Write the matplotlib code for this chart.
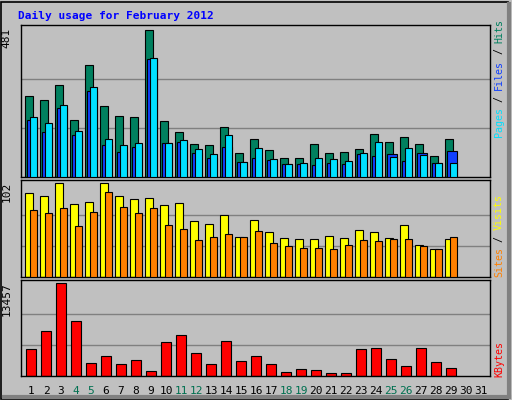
import matplotlib
matplotlib.use("Agg")
import matplotlib.pyplot as plt
import numpy as np

days = [str(d) for d in range(1, 32)]
weekend_days = [4, 5, 11, 12, 18, 19, 25, 26]
hits = [265, 252, 301, 187, 366, 232, 200, 196, 481, 183, 147, 108, 105, 164, 79, 124, 88, 62, 62, 108, 79, 82, 92, 141, 114, 131, 108, 69, 124]
files = [187, 147, 226, 137, 281, 105, 82, 98, 386, 111, 114, 79, 62, 98, 49, 62, 56, 43, 43, 39, 46, 43, 75, 69, 75, 52, 79, 46, 85]
pages = [196, 177, 236, 151, 295, 124, 105, 111, 389, 111, 121, 92, 75, 137, 49, 95, 59, 43, 46, 62, 59, 52, 79, 114, 65, 95, 72, 46, 46]
visits = [91, 88, 102, 79, 82, 102, 88, 85, 86, 78, 81, 61, 58, 67, 44, 62, 49, 42, 41, 41, 45, 42, 51, 49, 42, 57, 35, 31, 41]
sites = [73, 70, 75, 55, 71, 92, 76, 70, 75, 57, 52, 40, 44, 47, 44, 50, 37, 34, 32, 32, 30, 35, 40, 39, 41, 41, 34, 31, 43]
kbytes = [3880, 6530, 13457, 8000, 1820, 2850, 1670, 2260, 790, 4910, 5940, 3290, 1670, 5060, 2110, 2850, 1670, 640, 1080, 930, 490, 490, 3880, 4030, 2410, 1520, 4030, 1960, 1230]

BG = "#c0c0c0"
W, H = 512, 400
fig = plt.figure(figsize=(5.12, 4.0), dpi=100, facecolor=BG)
mono = "DejaVu Sans Mono"

def ax_at(top, bottom, left=21, right=490):
    return fig.add_axes([left / W, 1 - bottom / H, (right - left) / W, (bottom - top) / H], facecolor=BG)

x = np.arange(len(hits))
ax1 = ax_at(25, 177)
ax2 = ax_at(180, 277)
ax3 = ax_at(280, 376)

ax1.bar(x - 0.135, hits, width=0.47, color="#00805f", edgecolor="black", lw=0.8, zorder=2)
ax1.bar(x + 0.035, files, width=0.67, color="#1040ff", edgecolor="black", lw=0.8, zorder=3)
ax1.bar(x + 0.135, pages, width=0.47, color="#00e0ff", edgecolor="black", lw=0.8, zorder=4)
ax2.bar(x - 0.135, visits, width=0.47, color="#ffff00", edgecolor="black", lw=0.8, zorder=2)
ax2.bar(x + 0.135, sites, width=0.47, color="#ff8000", edgecolor="black", lw=0.8, zorder=3)
ax3.bar(x, kbytes, width=0.67, color="#ff0000", edgecolor="black", lw=0.8, zorder=2)

for ax, mx in ((ax1, max(hits)), (ax2, max(visits)), (ax3, max(kbytes))):
    ax.set_xlim(-0.667, 30.6)
    ax.set_ylim(0, mx * 1.035)
    for f in (1 / 3, 2 / 3):
        ax.axhline(mx * f, color="#808080", lw=1, zorder=1)
    ax.set_xticks([]); ax.set_yticks([])
    for s in ax.spines.values():
        s.set_color("black"); s.set_linewidth(1)
    ax.text(-0.03, 0.98, str(mx), transform=ax.transAxes, rotation=90, ha="center", va="top",
            fontsize=8, family=mono)

ax3.set_xticks(range(31))
ax3.set_xticklabels(days, family=mono, fontsize=8)
ax3.tick_params(length=0, pad=7)
for lbl, d in zip(ax3.get_xticklabels(), range(1, 32)):
    lbl.set_color("#007050" if d in weekend_days else "black")

fig.text(18 / W, 1 - 16 / H, "Daily usage for February 2012", color="#0000ff", family=mono,
         fontsize=8, weight="bold", va="center")

def vlabel(pieces, ybottom, xp=499, cw=5.9):
    y = ybottom
    for txt, col in pieces:
        fig.text(xp / W, 1 - y / H, txt, color=col, family=mono, fontsize=7.2,
                 rotation=90, ha="center", va="bottom")
        y -= cw * len(txt)

vlabel([("Pages", "#00e0ff"), (" / ", "black"), ("Files", "#1040ff"), (" / ", "black"), ("Hits", "#00805f")], 137)
vlabel([("Sites", "#ff8000"), (" / ", "black"), ("Visits", "#ffff00")], 277)
vlabel([("KBytes", "#ff0000")], 377)

fig.add_artist(plt.Rectangle((1 / W, 1 / H), 1 - 5 / W, 1 - 3 / H, transform=fig.transFigure,
                             fill=False, edgecolor="black", lw=1.2))
fig.add_artist(plt.Line2D([4 / W, 1 - 3 / W], [3 / H, 3 / H], transform=fig.transFigure, color="#808080", lw=3))
fig.add_artist(plt.Line2D([1 - 3 / W, 1 - 3 / W], [3 / H, 1 - 4 / H], transform=fig.transFigure, color="#808080", lw=3))

fig.savefig("out.png", dpi=100, facecolor=BG)
